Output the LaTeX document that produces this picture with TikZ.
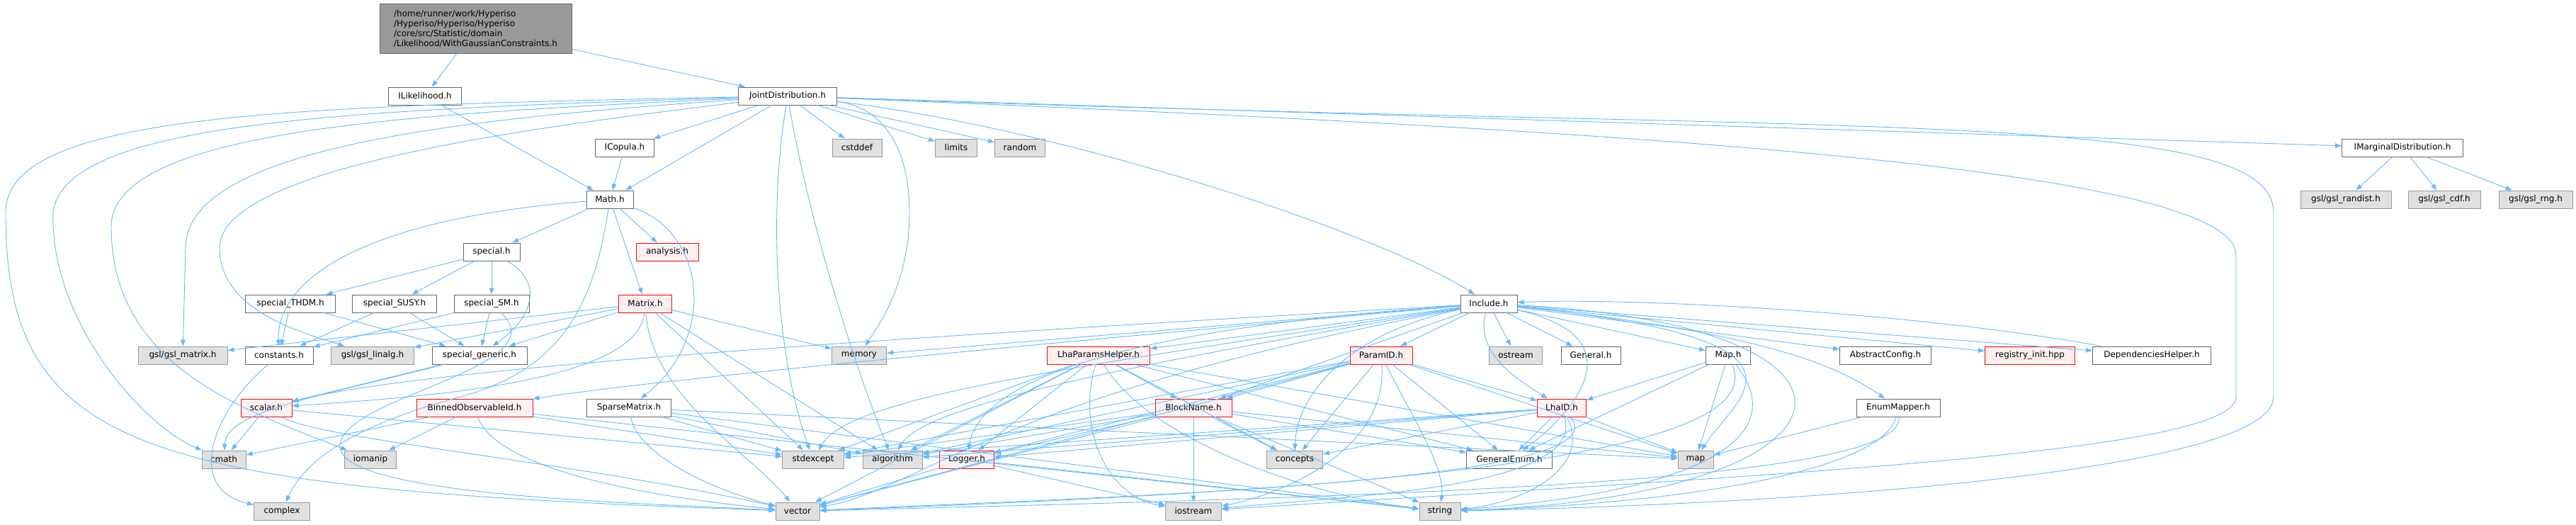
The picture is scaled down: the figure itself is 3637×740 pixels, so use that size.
\documentclass[tikz,border=0pt]{standalone}
\usepackage{fontspec}
\setmainfont{DejaVu Sans}
\usetikzlibrary{arrows.meta}
\definecolor{edgeblue}{HTML}{63B8FF}
\definecolor{boxgray}{HTML}{E0E0E0}
\definecolor{boxline}{HTML}{999999}
\definecolor{darkline}{HTML}{666666}
\definecolor{redfill}{HTML}{FFF0F0}
\tikzset{
  filebox/.style={draw=darkline, fill=white, line width=1pt, minimum height=25pt,
    inner sep=0pt, font=\fontsize{12}{14}\selectfont},
  sysbox/.style={filebox, draw=boxline, fill=boxgray},
  badbox/.style={filebox, draw=red, fill=redfill},
  rootbox/.style={filebox, fill=boxline, draw=darkline, align=left, minimum height=70pt},
  dep/.style={draw=edgeblue, line width=0.9pt, -{Triangle[length=9pt,width=6.5pt]}},
}
\begin{document}
\begin{tikzpicture}[x=1pt,y=-1pt]
    \useasboundingbox (0,0) rectangle (3637,740);

    % Top file
    \node[rootbox, minimum width=271pt] (root) at (671.5,40)
      {/home/runner/work/Hyperiso\\/Hyperiso/Hyperiso/Hyperiso\\/core/src/Statistic/domain\\/Likelihood/WithGaussianConstraints.h};

    % Rows 1 to 4
    \node[filebox, minimum width=103pt] (ilike) at (600,135.5) {ILikelihood.h};
    \node[filebox, minimum width=139pt] (joint) at (1112,135.5) {JointDistribution.h};
    \node[filebox, minimum width=83pt] (icopula) at (882,208.5) {ICopula.h};
    \node[sysbox, minimum width=70pt] (cstddef) at (1210,208.5) {cstddef};
    \node[sysbox, minimum width=59pt] (limits) at (1350,208.5) {limits};
    \node[sysbox, minimum width=71pt] (random) at (1440,208.5) {random};
    \node[filebox, minimum width=171pt] (imarg) at (3392,208.5) {IMarginalDistribution.h};
    \node[filebox, minimum width=66pt] (math) at (861,281.5) {Math.h};
    \node[sysbox, minimum width=128pt] (randist) at (3312,281.5) {gsl/gsl\_randist.h};
    \node[sysbox, minimum width=102pt] (cdf) at (3451,281.5) {gsl/gsl\_cdf.h};
    \node[sysbox, minimum width=104pt] (rng) at (3580,281.5) {gsl/gsl\_rng.h};
    \node[filebox, minimum width=80pt] (special) at (694,355.5) {special.h};
    \node[badbox, minimum width=88pt] (analysis) at (942,355.5) {analysis.h};

    % Row 5
    \node[filebox, minimum width=127pt] (thdm) at (410,428.5) {special\_THDM.h};
    \node[filebox, minimum width=119pt] (susy) at (557,428.5) {special\_SUSY.h};
    \node[filebox, minimum width=106pt] (sm) at (694,428.5) {special\_SM.h};
    \node[badbox, minimum width=75pt] (matrix) at (911,428.5) {Matrix.h};
    \node[filebox, minimum width=80pt] (include) at (2102,428.5) {Include.h};

    % Row 6
    \node[sysbox, minimum width=126pt] (gslmatrix) at (258,501.5) {gsl/gsl\_matrix.h};
    \node[filebox, minimum width=96pt] (constants) at (394,501.5) {constants.h};
    \node[sysbox, minimum width=117pt] (linalg) at (526,501.5) {gsl/gsl\_linalg.h};
    \node[filebox, minimum width=134pt] (generic) at (677,501.5) {special\_generic.h};
    \node[sysbox, minimum width=77pt] (memory) at (1213,501.5) {memory};
    \node[badbox, minimum width=145pt] (lhaparams) at (1551,501.5) {LhaParamsHelper.h};
    \node[badbox, minimum width=88pt] (paramid) at (1950,501.5) {ParamID.h};
    \node[sysbox, minimum width=75pt] (ostream) at (2140,501.5) {ostream};
    \node[filebox, minimum width=84pt] (general) at (2246,501.5) {General.h};
    \node[filebox, minimum width=63pt] (mapH) at (2440,501.5) {Map.h};
    \node[filebox, minimum width=129pt] (abstract) at (2662,501.5) {AbstractConfig.h};
    \node[badbox, minimum width=127pt] (registry) at (2866,501.5) {registry\_init.hpp};
    \node[filebox, minimum width=167pt] (depend) at (3038,501.5) {DependenciesHelper.h};

    % Row 7
    \node[badbox, minimum width=72pt] (scalar) at (376,575.5) {scalar.h};
    \node[badbox, minimum width=164pt] (binned) at (670,575.5) {BinnedObservableId.h};
    \node[filebox, minimum width=119pt] (sparse) at (888,575.5) {SparseMatrix.h};
    \node[badbox, minimum width=108pt] (blockname) at (1685,575.5) {BlockName.h};
    \node[badbox, minimum width=69pt] (lhaid) at (2205,575.5) {LhaID.h};
    \node[filebox, minimum width=118pt] (enummap) at (2680,575.5) {EnumMapper.h};

    % Row 8
    \node[sysbox, minimum width=62pt] (cmath) at (316,648.5) {cmath};
    \node[sysbox, minimum width=73pt] (iomanip) at (523,648.5) {iomanip};
    \node[sysbox, minimum width=87pt] (stdexcept) at (1148,648.5) {stdexcept};
    \node[sysbox, minimum width=84pt] (algorithm) at (1260,648.5) {algorithm};
    \node[badbox, minimum width=77pt] (logger) at (1365,648.5) {Logger.h};
    \node[sysbox, minimum width=79pt] (concepts) at (1828,648.5) {concepts};
    \node[filebox, minimum width=121pt] (genenum) at (2131,648.5) {GeneralEnum.h};
    \node[sysbox, minimum width=50pt] (map) at (2394,648.5) {map};

    % Row 9
    \node[sysbox, minimum width=79pt] (complex) at (398,721.5) {complex};
    \node[sysbox, minimum width=62pt] (vector) at (1126,721.5) {vector};
    \node[sysbox, minimum width=79pt] (iostream) at (1685,721.5) {iostream};
    \node[sysbox, minimum width=58pt] (string) at (2033,721.5) {string};

    % Top file
    \draw[dep] (root) -- (ilike);
    \draw[dep] (root) -- (joint);
    \draw[dep] (ilike) -- (math);

    % JointDistribution.h
    \draw[dep] (joint) -- (icopula);
    \draw[dep] (joint) -- (math);
    \draw[dep] (joint) -- (cstddef);
    \draw[dep] (joint) -- (limits);
    \draw[dep] (joint) -- (random);
    \draw[dep] (joint) -- (imarg);
    \draw[dep] (joint) .. controls (1500,180) and (1950,330) .. (include);
    \draw[dep] (joint) .. controls (1240,150) and (1284,200) .. (1284,300) .. controls (1284,400) and (1240,460) .. (memory);
    \draw[dep] (joint) .. controls (1085,300) and (1095,500) .. (stdexcept);
    \draw[dep] (joint) .. controls (1140,300) and (1200,500) .. (algorithm);
    \draw[dep] (joint) .. controls (400,150) and (8,160) .. (8,300) .. controls (8,640) and (200,690) .. (vector);
    \draw[dep] (joint) .. controls (500,155) and (90,170) .. (75,300) .. controls (70,450) and (200,600) .. (cmath);
    \draw[dep] (joint) .. controls (600,160) and (157,180) .. (157,320) .. controls (157,520) and (350,580) .. (iomanip);
    \draw[dep] (joint) .. controls (700,165) and (262,200) .. (262,350) -- (gslmatrix);
    \draw[dep] (joint) .. controls (800,175) and (310,230) .. (310,350) .. controls (310,440) and (430,470) .. (linalg);
    \draw[dep] (joint) .. controls (2600,190) and (3210,150) .. (3210,300) -- (3210,560) .. controls (3210,660) and (2600,710) .. (string);
    \draw[dep] (joint) .. controls (2200,180) and (3157,230) .. (3157,360) -- (3157,560) .. controls (3157,640) and (2500,670) .. (iostream);
    \draw[dep] (icopula) -- (math);

    % IMarginalDistribution.h
    \draw[dep] (imarg) -- (randist);
    \draw[dep] (imarg) -- (cdf);
    \draw[dep] (imarg) -- (rng);

    % Math.h
    \draw[dep] (math) -- (special);
    \draw[dep] (math) -- (analysis);
    \draw[dep] (math) -- (matrix);
    \draw[dep] (math) .. controls (1000,330) and (1010,480) .. (sparse);
    \draw[dep] (math) .. controls (500,310) and (390,400) .. (constants);
    \draw[dep] (math) .. controls (840,420) and (800,520) .. (650,560) .. controls (500,600) and (430,650) .. (complex);

    % special.h and friends
    \draw[dep] (special) -- (thdm);
    \draw[dep] (special) -- (susy);
    \draw[dep] (special) -- (sm);
    \draw[dep] (special) .. controls (770,400) and (750,450) .. (generic);
    \draw[dep] (thdm) -- (constants);
    \draw[dep] (thdm) -- (generic);
    \draw[dep] (susy) -- (constants);
    \draw[dep] (susy) -- (generic);
    \draw[dep] (sm) -- (constants);
    \draw[dep] (sm) -- (generic);
    \draw[dep] (sm) .. controls (790,520) and (480,560) .. (480,630) .. controls (480,700) and (900,710) .. (vector);
    \draw[dep] (generic) -- (scalar);
    \draw[dep] (generic) .. controls (450,560) and (320,580) .. (cmath);
    \draw[dep] (constants) .. controls (300,580) and (260,690) .. (complex);

    % Matrix.h
    \draw[dep] (matrix) -- (gslmatrix);
    \draw[dep] (matrix) -- (linalg);
    \draw[dep] (matrix) -- (generic);
    \draw[dep] (matrix) -- (memory);
    \draw[dep] (matrix) .. controls (900,540) and (600,560) .. (scalar);
    \draw[dep] (matrix) -- (stdexcept);
    \draw[dep] (matrix) -- (algorithm);
    \draw[dep] (matrix) .. controls (920,560) and (1060,640) .. (vector);

    % scalar.h, BinnedObservableId.h, SparseMatrix.h
    \draw[dep] (scalar) -- (cmath);
    \draw[dep] (scalar) -- (stdexcept);
    \draw[dep] (scalar) .. controls (450,620) and (800,650) .. (vector);
    \draw[dep] (binned) -- (cmath);
    \draw[dep] (binned) -- (iomanip);
    \draw[dep] (binned) .. controls (700,660) and (900,700) .. (vector);
    \draw[dep] (binned) -- (stdexcept);
    \draw[dep] (binned) -- (string);
    \draw[dep] (sparse) -- (stdexcept);
    \draw[dep] (sparse) -- (algorithm);
    \draw[dep] (sparse) .. controls (900,640) and (1000,690) .. (vector);
    \draw[dep] (sparse) -- (map);
    \draw[dep] (sparse) -- (string);

    % Include.h
    \draw[dep] (include) -- (paramid);
    \draw[dep] (include) -- (lhaparams);
    \draw[dep] (include) -- (blockname);
    \draw[dep] (include) .. controls (2080,500) and (2150,540) .. (lhaid);
    \draw[dep] (include) -- (ostream);
    \draw[dep] (include) -- (general);
    \draw[dep] (include) -- (mapH);
    \draw[dep] (include) -- (abstract);
    \draw[dep] (include) -- (registry);
    \draw[dep] (include) -- (depend);
    \draw[dep] (include) .. controls (2500,470) and (2600,520) .. (enummap);
    \draw[dep] (include) -- (memory);
    \draw[dep] (include) .. controls (1900,470) and (1830,560) .. (concepts);
    \draw[dep] (include) .. controls (2330,480) and (2200,600) .. (genenum);
    \draw[dep] (include) .. controls (2600,480) and (2450,560) .. (map);
    \draw[dep] (include) .. controls (2700,460) and (2650,700) .. (string);
    \draw[dep] (include) .. controls (1400,560) and (1300,690) .. (vector);
    \draw[dep] (include) .. controls (1500,520) and (1200,560) .. (stdexcept);
    \draw[dep] (include) .. controls (1500,530) and (1300,580) .. (algorithm);
    \draw[dep] (include) .. controls (1500,470) and (1380,560) .. (logger);
    \draw[dep] (include) .. controls (1200,480) and (600,520) .. (scalar);
    \draw[dep] (include) .. controls (1300,500) and (900,540) .. (binned);
    \draw[dep] (depend) .. controls (2700,440) and (2300,420) .. (include);

    % LhaParamsHelper.h
    \draw[dep] (lhaparams) -- (blockname);
    \draw[dep] (lhaparams) -- (stdexcept);
    \draw[dep] (lhaparams) -- (algorithm);
    \draw[dep] (lhaparams) -- (logger);
    \draw[dep] (lhaparams) -- (concepts);
    \draw[dep] (lhaparams) -- (genenum);
    \draw[dep] (lhaparams) -- (map);
    \draw[dep] (lhaparams) .. controls (1520,600) and (1560,700) .. (iostream);
    \draw[dep] (lhaparams) .. controls (1620,620) and (1850,700) .. (string);
    \draw[dep] (lhaparams) -- (vector);

    % ParamID.h
    \draw[dep] (paramid) -- (blockname);
    \draw[dep] (paramid) -- (lhaid);
    \draw[dep] (paramid) -- (stdexcept);
    \draw[dep] (paramid) -- (algorithm);
    \draw[dep] (paramid) -- (logger);
    \draw[dep] (paramid) -- (concepts);
    \draw[dep] (paramid) -- (genenum);
    \draw[dep] (paramid) -- (map);
    \draw[dep] (paramid) -- (vector);
    \draw[dep] (paramid) .. controls (1960,640) and (1800,700) .. (iostream);
    \draw[dep] (paramid) .. controls (2000,600) and (2040,660) .. (string);

    % BlockName.h
    \draw[dep] (blockname) -- (iostream);
    \draw[dep] (blockname) -- (string);
    \draw[dep] (blockname) -- (concepts);
    \draw[dep] (blockname) -- (genenum);
    \draw[dep] (blockname) -- (map);
    \draw[dep] (blockname) -- (logger);
    \draw[dep] (blockname) -- (algorithm);
    \draw[dep] (blockname) -- (stdexcept);
    \draw[dep] (blockname) -- (vector);

    % LhaID.h
    \draw[dep] (lhaid) -- (genenum);
    \draw[dep] (lhaid) -- (map);
    \draw[dep] (lhaid) -- (concepts);
    \draw[dep] (lhaid) -- (logger);
    \draw[dep] (lhaid) -- (algorithm);
    \draw[dep] (lhaid) -- (stdexcept);
    \draw[dep] (lhaid) .. controls (2250,660) and (2150,710) .. (string);
    \draw[dep] (lhaid) .. controls (2300,680) and (1600,700) .. (vector);
    \draw[dep] (lhaid) .. controls (2240,690) and (1900,700) .. (iostream);

    % Map.h, EnumMapper.h, Logger.h
    \draw[dep] (mapH) -- (lhaid);
    \draw[dep] (mapH) -- (genenum);
    \draw[dep] (mapH) -- (map);
    \draw[dep] (mapH) .. controls (2520,600) and (2450,690) .. (string);
    \draw[dep] (mapH) .. controls (2500,640) and (2000,690) .. (vector);
    \draw[dep] (enummap) -- (map);
    \draw[dep] (enummap) .. controls (2660,660) and (2400,710) .. (string);
    \draw[dep] (enummap) .. controls (2690,680) and (2000,700) .. (vector);
    \draw[dep] (logger) -- (vector);
    \draw[dep] (logger) -- (iostream);
    \draw[dep] (logger) -- (string);
\end{tikzpicture}
\end{document}
